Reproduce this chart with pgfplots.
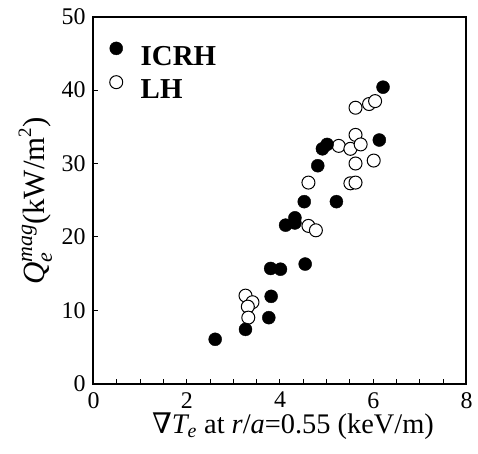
\documentclass[border=0pt]{standalone}
\usepackage{fontspec}
\setmainfont{Liberation Serif}
\newfontfamily\dejaserif{DejaVu Serif}
\usepackage{pgfplots}
\pgfplotsset{compat=1.18}

\begin{document}
\begin{tikzpicture}
\path[use as bounding box] (-93.5bp,-69.7bp) rectangle (384.5bp,383.7bp);
\begin{axis}[
  scale only axis,
  width=373bp, height=367bp,
  xmin=0, xmax=8, ymin=0, ymax=50,
  xtick={0,2,...,8}, minor x tick num=3,
  ytick={0,10,...,50},
  tick align=inside, tick pos=left,
  major tick length=5bp, minor tick length=5bp,
  every tick/.style={black, line width=1bp},
  axis line style={line width=2bp},
  tick label style={font=\fontsize{24}{28}\selectfont},
  /pgf/number format/assume math mode=true,
  yticklabel style={xshift=-4.5bp},
  xticklabel style={yshift=-5bp},
  xlabel={{\dejaserif ∇}{\itshape T}\textsubscript{\itshape e} at {\itshape r}/{\itshape a}=0.55 (keV/m)},
  xlabel style={font=\fontsize{28.5}{32}\selectfont, anchor=base,
    at={([xshift=13bp,yshift=-50bp]axis description cs:0.5,0)}},
  ylabel={{\itshape Q}\rlap{\raisebox{-0.22em}{\fontsize{22}{22}\selectfont\itshape e}}\raisebox{0.42em}{\fontsize{22}{22}\selectfont\itshape mag}(kW/m\raisebox{0.45em}{\fontsize{19}{19}\selectfont 2})},
  ylabel style={font=\fontsize{31}{34}\selectfont, anchor=base,
    at={([xshift=-48.5bp,yshift=-1bp]axis description cs:0,0.5)}},
  legend style={at={(axis description cs:0.043,0.932)}, anchor=north west,
    draw=none, fill=none, inner sep=0pt, row sep=9bp,
    font=\fontsize{29}{34}\selectfont\bfseries,
    nodes={inner sep=0pt}, column sep=18bp},
  legend cell align=left,
  reverse legend,
  legend image code/.code={\draw[#1] plot coordinates {(0bp,8bp)};},
  clip=false,
]
\addplot[only marks, mark=*, mark size=6.5bp, mark options={draw=black, fill=white, line width=1bp}]
  coordinates {
    (3.26,12.0) (3.41,11.1) (3.31,10.5) (3.32,9.0)
    (4.61,21.5) (4.77,20.9) (4.61,27.4) (5.26,32.4)
    (5.51,32.0) (5.62,33.9) (5.73,32.6) (5.62,30.0)
    (6.01,30.4) (5.51,27.3) (5.62,27.4) (5.62,37.6)
    (5.91,38.1) (6.04,38.5)
  };
\addlegendentry{LH}
\addplot[only marks, mark=*, mark size=6.5bp, mark options={draw=black, fill=black}]
  coordinates {
    (2.61,6.05) (3.26,7.4) (3.76,9.0) (3.81,11.9)
    (3.80,15.7) (4.01,15.6) (4.54,16.3) (4.12,21.6)
    (4.32,22.6) (4.32,21.9) (4.52,24.8) (5.21,24.8)
    (4.81,29.7) (4.91,32.0) (5.01,32.6) (6.13,33.2)
    (6.21,40.4)
  };
\addlegendentry{ICRH}
\end{axis}
\end{tikzpicture}
\end{document}
